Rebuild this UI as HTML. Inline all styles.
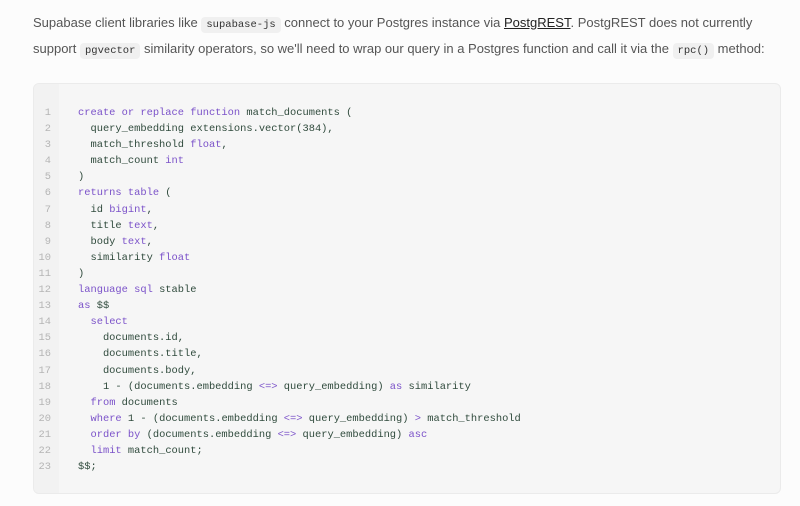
<!DOCTYPE html>
<html><head><meta charset="utf-8"><style>
body{margin:0;width:800px;height:506px;background:#fcfcfc;font-family:"Liberation Sans",sans-serif;overflow:hidden;position:relative}
p{position:absolute;left:33px;top:11px;margin:0;width:760px;font-size:13px;line-height:23px;color:#555}
code.i{font-family:"Liberation Mono",monospace;font-size:10.5px;background:#f0f0f0;border-radius:4px;padding:2px 5px;color:#333}
u{color:#222}
.box{position:absolute;left:33px;top:83px;width:746px;height:409px;background:#f6f6f6;border:1px solid #ebebeb;border-radius:6px;overflow:hidden}
.g{position:absolute;left:0;top:0;width:25px;height:100%;background:#f2f2f2}
pre{position:absolute;margin:0;top:21px;font-family:"Liberation Mono",monospace;font-size:10.4px;line-height:16.1px}
.n{left:3px;color:#b5b5b5;text-align:right;width:14px}
.c{left:44px;color:#2f4a3c}
.k{color:#7b52c9}
</style></head><body>
<p>Supabase client libraries like <code class="i">supabase-js</code> connect to your Postgres instance via <u>PostgREST</u>. PostgREST does not currently support <code class="i">pgvector</code> similarity operators, so we'll need to wrap our query in a Postgres function and call it via the <code class="i">rpc()</code> method:</p>
<div class="box"><div class="g"></div>
<pre class="n">1
2
3
4
5
6
7
8
9
10
11
12
13
14
15
16
17
18
19
20
21
22
23</pre>
<pre class="c"><span class="k">create or replace function</span> match_documents (
  query_embedding extensions.vector(384),
  match_threshold <span class="k">float</span>,
  match_count <span class="k">int</span>
)
<span class="k">returns table</span> (
  id <span class="k">bigint</span>,
  title <span class="k">text</span>,
  body <span class="k">text</span>,
  similarity <span class="k">float</span>
)
<span class="k">language sql</span> stable
<span class="k">as</span> $$
  <span class="k">select</span>
    documents.id,
    documents.title,
    documents.body,
    1 - (documents.embedding <span class="k">&lt;=&gt;</span> query_embedding) <span class="k">as</span> similarity
  <span class="k">from</span> documents
  <span class="k">where</span> 1 - (documents.embedding <span class="k">&lt;=&gt;</span> query_embedding) <span class="k">&gt;</span> match_threshold
  <span class="k">order by</span> (documents.embedding <span class="k">&lt;=&gt;</span> query_embedding) <span class="k">asc</span>
  <span class="k">limit</span> match_count;
$$;</pre>
</div>
</body></html>
